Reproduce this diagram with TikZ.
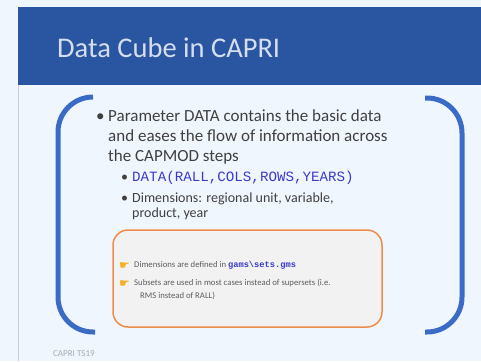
\documentclass[tikz,border=0pt]{standalone}
\usepackage{fontspec}
\setmainfont{Carlito}
\newfontfamily\codefont{Liberation Mono}
\newfontfamily\symfont{DejaVu Sans}
\definecolor{pagebg}{HTML}{F0F6FE}
\definecolor{headblue}{HTML}{2A55A0}
\definecolor{titlefg}{HTML}{D4DEF0}
\definecolor{brackblue}{HTML}{3A6BC6}
\definecolor{bodygray}{HTML}{404040}
\definecolor{codeblue}{HTML}{3A3ACC}
\definecolor{noteorange}{HTML}{F08C4A}
\definecolor{notefill}{HTML}{F2F2F2}
\definecolor{iconyellow}{HTML}{F5B020}
\definecolor{framegray}{HTML}{C8CCD4}
\definecolor{footgray}{HTML}{A8ACB4}
\tikzset{
  body/.style={anchor=base west,inner sep=0pt,text=bodygray},
  bigtext/.style={body,font=\fontsize{17}{20}\selectfont},
  subtext/.style={body,font=\fontsize{14}{16}\selectfont},
  notetext/.style={body,text=bodygray!85,font=\fontsize{8.7}{10}\selectfont},
  bracket/.style={brackblue,line width=5pt,rounded corners=35pt},
  notebox/.style={draw=noteorange,fill=notefill,line width=1.5pt,rounded corners=15pt},
  icon/.style={anchor=base west,inner sep=0pt,text=iconyellow,font=\symfont\bfseries\fontsize{12}{12}\selectfont}
}

\begin{document}
\begin{tikzpicture}[x=1pt,y=-1pt]
\useasboundingbox (0,0) rectangle (481,361);
\fill [pagebg] (0,0) rectangle (481,361);
% slide frame and header
\draw [framegray,line width=0.8pt] (18,361) -- (18,7) -- (481,7);
\fill [headblue] (18,7.4) rectangle (481,85);
\node [anchor=west,inner sep=0pt,text=titlefg,font=\fontsize{28.5}{30}\selectfont] (title) at (57,48) {Data Cube in CAPRI};
% brackets
\draw [bracket] (93,97) -| (58,332) -- (95,332);
\draw [bracket] (425,98) -| (462,332) -- (425,332);
% main bullet
\node [bigtext] (b0) at (96,121) {•};
\node [bigtext] (l1) at (108,121) {Parameter DATA contains the basic data};
\node [bigtext] (l2) at (108,141) {and eases the flow of information across};
\node [bigtext] (l3) at (108,161) {the CAPMOD steps};
% sub bullets
\node [subtext] (b1) at (121,181) {•};
\node [body,text=codeblue,font=\codefont\fontsize{14.2}{15}\selectfont] (s1) at (132,181) {DATA(RALL,COLS,ROWS,YEARS)};
\node [subtext] (b2) at (121,202) {•};
\node [subtext] (s2) at (132,202) {Dimensions: regional unit, variable,};
\node [subtext] (s3) at (132,217) {product, year};
% note box
\draw [notebox] (113,230) rectangle (382,327);
\node [icon] (i1) at (119,269) {☛};
\node [notetext] (n1) at (134,267) {Dimensions are defined in {\codefont\bfseries\color{codeblue}gams\textbackslash sets.gms}};
\node [icon] (i2) at (119,287) {☛};
\node [notetext] (n2) at (134,285) {Subsets are used in most cases instead of supersets (i.e.};
\node [notetext] (n3) at (140,298) {RMS instead of RALL)};
% footer
\node [anchor=west,inner sep=0pt,text=footgray,font=\fontsize{9}{10}\selectfont] (foot) at (53,354) {CAPRI TS19};
\end{tikzpicture}
\end{document}
